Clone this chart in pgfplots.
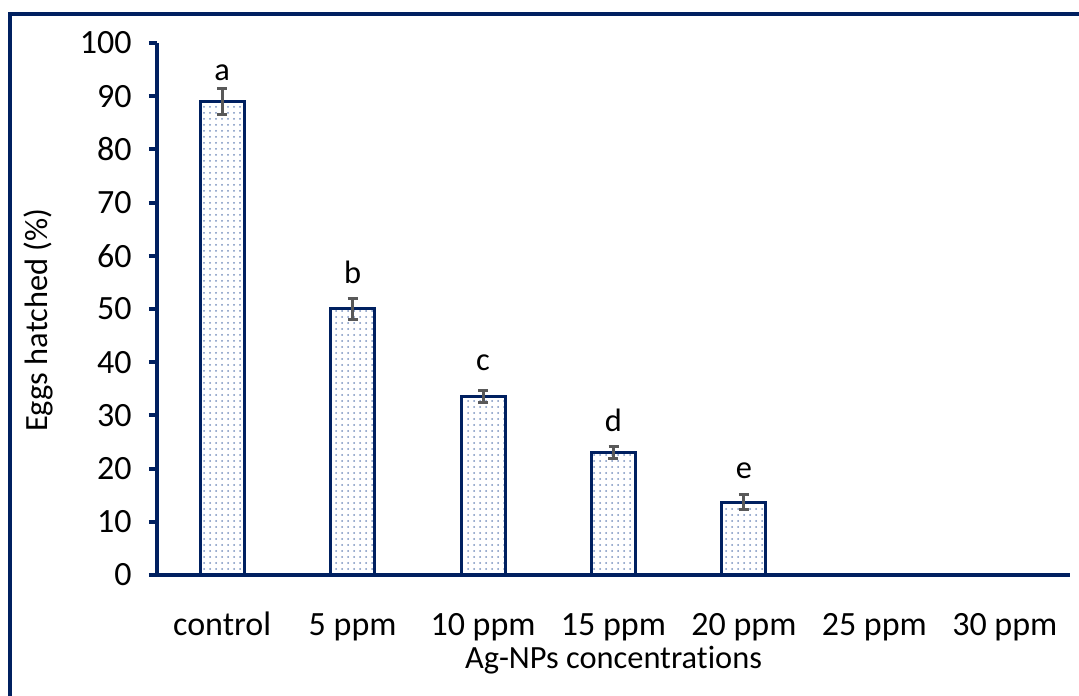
\documentclass[border=0pt]{standalone}
\usepackage{pgfplots}
\pgfplotsset{compat=1.18}
\usepackage{fontspec}
\setmainfont[Ligatures=NoCommon]{Carlito}
\usetikzlibrary{patterns}
\definecolor{navy}{RGB}{0,32,96}
\definecolor{errgray}{RGB}{89,89,89}
\definecolor{dotblue}{RGB}{120,145,190}
\begin{document}
\begin{tikzpicture}
\useasboundingbox (-78.5pt,-60pt) rectangle (461pt,287.5pt);
\begin{axis}[
  at={(0,0)}, anchor=south west,
  scale only axis,
  width=456.5pt, height=266pt,
  xmin=-0.5, xmax=6.5, ymin=0, ymax=100,
  axis lines*=left,
  axis line style={navy, line width=2pt, -},
  ytick={0,10,...,100},
  xtick={0,...,6},
  xticklabels={control,5 ppm,10 ppm,15 ppm,20 ppm,25 ppm,30 ppm},
  x tick style={draw=none},
  y tick style={navy, line width=2pt},
  tick align=outside,
  major tick length=4pt,
  font=\fontsize{16.2}{19}\selectfont,
  tick label style={font=\fontsize{17}{20}\selectfont},
  /pgf/number format/assume math mode=true,
  yticklabel style={anchor=east, inner sep=0pt, xshift=-8.5pt},
  xticklabel style={anchor=base, inner sep=0pt, yshift=-26pt},
  xlabel={Ag-NPs concentrations},
  ylabel={Eggs hatched (\%)},
  xlabel style={at={(axis description cs:0.5,0)}, anchor=center, yshift=-42.5pt},
  ylabel style={at={(axis description cs:-0.1303,0.479)}, anchor=center},
  clip=false,
]
\addplot[ybar, bar width=22pt, draw=navy, line width=1.5pt, pattern=dots, pattern color=dotblue,
  error bars/.cd, y dir=both, y explicit,
  error bar style={line width=1.5pt, color=errgray},
  error mark options={rotate=90, mark size=2.5pt, line width=1.5pt, color=errgray}]
coordinates {
(0,89) +- (0,2.5)
(1,50) +- (0,2)
(2,33.5) +- (0,1.1)
(3,23) +- (0,1.1)
(4,13.7) +- (0,1.4)
};
\addplot[draw=none, mark=none, nodes near coords, point meta=explicit symbolic,
  every node near coord/.style={anchor=base, inner sep=0pt, font=\fontsize{16.2}{19}\selectfont}]
coordinates {
(0,93.0)[a]
(1,54.7)[b]
(2,38.5)[c]
(3,26.9)[d]
(4,18.2)[e]
};
\end{axis}
\draw[navy, line width=2pt] (-73.5pt,-70pt) -- (-73.5pt,280.5pt) -- (470pt,280.5pt);
\end{tikzpicture}
\end{document}
